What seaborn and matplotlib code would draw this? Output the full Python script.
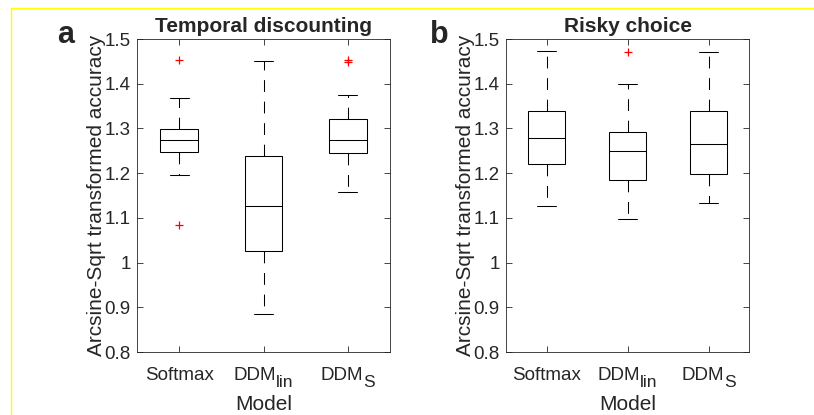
import matplotlib
matplotlib.use("Agg")
import matplotlib.pyplot as plt
from matplotlib.lines import Line2D
from matplotlib.ticker import FuncFormatter
import pandas as pd
import seaborn as sns

# five-number summaries (whisker low, q1, median, q3, whisker high)
models = ["Softmax", "DDM_lin", "DDM_S"]
label_main = ["Softmax", "DDM", "DDM"]
label_sub = ["", "lin", "S"]

td_low = [1.195, 0.885, 1.158]
td_q1 = [1.247, 1.025, 1.246]
td_med = [1.274, 1.126, 1.274]
td_q3 = [1.299, 1.238, 1.320]
td_high = [1.367, 1.450, 1.374]
td_out_model = ["Softmax", "Softmax", "DDM_S", "DDM_S"]
td_out_value = [1.453, 1.083, 1.449, 1.452]

rc_low = [1.127, 1.097, 1.133]
rc_q1 = [1.220, 1.184, 1.198]
rc_med = [1.278, 1.249, 1.266]
rc_q3 = [1.340, 1.291, 1.340]
rc_high = [1.474, 1.400, 1.472]
rc_out_model = ["DDM_lin"]
rc_out_value = [1.472]

titles = ["Temporal discounting", "Risky choice"]
panel_letters = ["a", "b"]
y_ticks = [0.8, 0.9, 1.0, 1.1, 1.2, 1.3, 1.4, 1.5]


def summary_frame(low, q1, med, q3, high):
    rows = []
    for i, m in enumerate(models):
        for v in (low[i], q1[i], med[i], q3[i], high[i]):
            rows.append({"model": m, "value": v})
    return pd.DataFrame(rows)


sns.set_style("ticks")
plt.rcParams["font.family"] = ["Liberation Sans", "DejaVu Sans"]
plt.rcParams["lines.scale_dashes"] = False

TEXT = "#262626"
TICK_FS = 13.5
LABEL_FS = 15
SUB_FS = 12.5
DPI = 100

fig = plt.figure(figsize=(8.14, 4.15), dpi=DPI)
# (left px, width px) of each panel
boxes = [(137, 253), (506, 243)]
axes = [fig.add_axes([l / 814, 63 / 415, w / 814, 313 / 415]) for l, w in boxes]

panels = [
    (summary_frame(td_low, td_q1, td_med, td_q3, td_high), td_out_model, td_out_value),
    (summary_frame(rc_low, rc_q1, rc_med, rc_q3, rc_high), rc_out_model, rc_out_value),
]

label_pairs = []
for ax, (df, out_m, out_v), title, letter, lx, (_, wpx) in zip(
        axes, panels, titles, panel_letters, [57, 430], boxes):
    sns.boxplot(
        data=df, x="model", y="value", order=models, ax=ax,
        width=0.45, color="white", linecolor="black", linewidth=0.75,
        showfliers=False,
        whiskerprops={"linestyle": (0, (8.5, 7))},
    )
    # outliers as red plus signs at the category positions
    ax.plot([models.index(m) for m in out_m], out_v, ls="none", marker="+",
            color="#ff0000", markersize=6, markeredgewidth=0.9, zorder=5)

    ax.set_xlim(-0.5, 2.5)
    ax.set_ylim(0.8, 1.5)
    ax.set_yticks(y_ticks)
    ax.yaxis.set_major_formatter(FuncFormatter(lambda v, p: f"{v:g}"))
    ax.set_xticks(range(len(models)))
    ax.set_xticklabels([""] * len(models))
    ax.tick_params(direction="in", length=4, width=0.6, color=TEXT,
                   labelsize=TICK_FS, labelcolor=TEXT, top=True, right=True)
    ax.tick_params(axis="y", pad=4.5)
    for s in ax.spines.values():
        s.set_visible(True)
        s.set_color(TEXT)
        s.set_linewidth(0.6)

    # category labels with MATLAB-style (large) subscripts
    for i, (main, sub) in enumerate(zip(label_main, label_sub)):
        t = ax.annotate(main, xy=(i, 0), xycoords=ax.get_xaxis_transform(),
                        xytext=(0, -20.2), textcoords="offset points",
                        ha="center", va="baseline", fontsize=TICK_FS, color=TEXT)
        s = None
        if sub:
            s = ax.annotate(sub, xy=(1, 0), xycoords=t, xytext=(0.4, -1.9),
                            textcoords="offset points", ha="left", va="baseline",
                            fontsize=SUB_FS, color=TEXT)
        label_pairs.append((t, s))

    ax.set_xlabel("Model", fontsize=LABEL_FS, color=TEXT)
    ax.xaxis.set_label_coords(0.5, -0.137)
    ax.set_ylabel("Arcsine-Sqrt transformed accuracy", fontsize=LABEL_FS, color=TEXT)
    ax.yaxis.set_label_coords(-31 / wpx, 0.5)
    ax.set_title(title, fontsize=LABEL_FS, fontweight="bold", pad=5)
    fig.text(lx / 814, 1 - 43 / 415, letter, fontsize=22, fontweight="bold",
             ha="left", va="baseline")

# centre "DDM" + subscript together under each tick
fig.canvas.draw()
renderer = fig.canvas.get_renderer()
for t, s in label_pairs:
    if s is not None:
        w = s.get_window_extent(renderer).width + 0.4 * DPI / 72
        t.xyann = (-w / 2 * 72 / DPI, t.xyann[1])

# yellow frame around the figure
fig.add_artist(Line2D([10.5 / 814, 1.0], [1 - 8 / 415, 1 - 8 / 415],
                      transform=fig.transFigure, color="#ffff00", lw=1))
fig.add_artist(Line2D([10.5 / 814, 10.5 / 814], [0.0, 1 - 8 / 415],
                      transform=fig.transFigure, color="#ffff00", lw=1))

fig.savefig("out.png", dpi=DPI)
